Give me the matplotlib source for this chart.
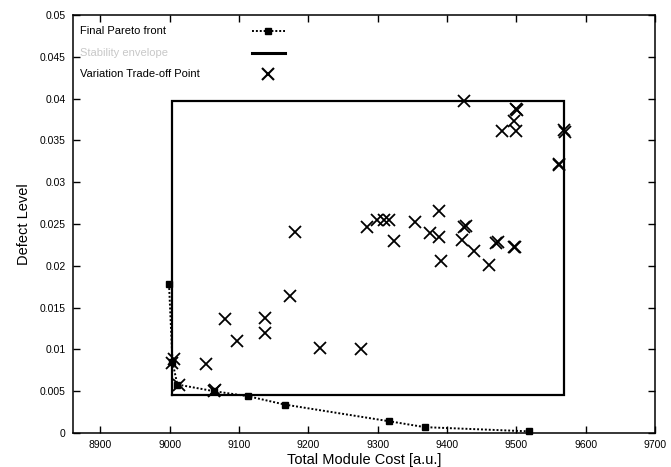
import matplotlib
matplotlib.use("Agg")
import matplotlib.pyplot as plt

plt.rcParams['font.family'] = ['Liberation Sans', 'DejaVu Sans']

# Final Pareto front
pareto_cost = [8999, 9004, 9011, 9064, 9113, 9166, 9317, 9368, 9518]
pareto_defect = [0.0178, 0.0085, 0.0058, 0.0050, 0.0044, 0.0034, 0.0014, 0.0007, 0.0002]

# Stability envelope (rectangle corners)
env_cost = [9004, 9569, 9569, 9004, 9004]
env_defect = [0.0045, 0.0045, 0.0397, 0.0397, 0.0045]

# Variation trade-off points
var_cost = [9004, 9006, 9013, 9064, 9066, 9052, 9080, 9097, 9138, 9138,
            9174, 9181, 9217, 9276, 9284, 9299, 9309, 9317, 9324, 9354,
            9388, 9376, 9388, 9391, 9424, 9425, 9427, 9421, 9439, 9460,
            9471, 9473, 9496, 9498, 9479, 9500, 9497, 9500, 9501, 9569,
            9570, 9561, 9562]
var_defect = [0.0084, 0.0088, 0.0058, 0.0050, 0.0052, 0.0082, 0.0136, 0.0110, 0.0138, 0.0120,
              0.0164, 0.0240, 0.0102, 0.0100, 0.0247, 0.0255, 0.0255, 0.0255, 0.0230, 0.0252,
              0.0265, 0.0239, 0.0235, 0.0206, 0.0397, 0.0247, 0.0248, 0.0231, 0.0218, 0.0201,
              0.0227, 0.0228, 0.0222, 0.0223, 0.0361, 0.0361, 0.0373, 0.0388, 0.0386, 0.0362,
              0.0360, 0.0320, 0.0322]

x_ticks = [8900, 9000, 9100, 9200, 9300, 9400, 9500, 9600, 9700]
y_ticks = [0, 0.005, 0.01, 0.015, 0.02, 0.025, 0.03, 0.035, 0.04, 0.045, 0.05]
y_labels = ['0', '0.005', '0.01', '0.015', '0.02', '0.025', '0.03', '0.035', '0.04', '0.045', '0.05']

legend_labels = ['Final Pareto front', 'Stability envelope', 'Variation Trade-off Point']
legend_colors = ['black', '#c8c8c8', 'black']

fig = plt.figure(figsize=(6.71, 4.67), dpi=100)
ax = fig.add_axes([0.1083, 0.0728, 0.8678, 0.8951])

ax.plot(pareto_cost, pareto_defect, linestyle=(0, (1, 1)), color='black', lw=1.4,
        marker='s', markersize=4.5, clip_on=False, zorder=3)
ax.plot(env_cost, env_defect, color='black', lw=1.6, solid_joinstyle='miter', zorder=2)
ax.plot(var_cost, var_defect, linestyle='none', marker='x', color='black',
        markersize=8, markeredgewidth=1.3, zorder=4)

ax.set_xlim(8860, 9700)
ax.set_ylim(0, 0.05)
ax.set_xticks(x_ticks)
ax.set_xticklabels([str(t) for t in x_ticks])
ax.set_yticks(y_ticks)
ax.set_yticklabels(y_labels)
ax.tick_params(direction='in', length=5, width=1, top=True, right=True,
               labelsize=7.5, pad=5)
for s in ax.spines.values():
    s.set_linewidth(1.1)

ax.set_xlabel('Total Module Cost [a.u.]', fontsize=10.5, labelpad=2)
ax.set_ylabel('Defect Level', fontsize=10.5, labelpad=6)

# Legend drawn manually: left-aligned text, handles in a column on the right
rows_y = [0.9617, 0.909, 0.859]
tx = 0.0125
hx0, hx1 = 0.308, 0.3646
hxc = (hx0 + hx1) / 2
for lab, col, yy in zip(legend_labels, legend_colors, rows_y):
    ax.text(tx, yy, lab, transform=ax.transAxes, fontsize=8, color=col,
            ha='left', va='center')
ax.plot([hx0, hx1], [rows_y[0]] * 2, transform=ax.transAxes, linestyle=(0, (1, 1)),
        color='black', lw=1.4, clip_on=False)
ax.plot([hxc], [rows_y[0]], transform=ax.transAxes, marker='s', markersize=4.5,
        color='black', linestyle='none')
ax.plot([hx0, hx1], [rows_y[1]] * 2, transform=ax.transAxes, color='black', lw=2.2)
ax.plot([hxc], [rows_y[2]], transform=ax.transAxes, marker='x', markersize=9,
        markeredgewidth=1.5, color='black', linestyle='none')

fig.savefig('out.png', dpi=100)
